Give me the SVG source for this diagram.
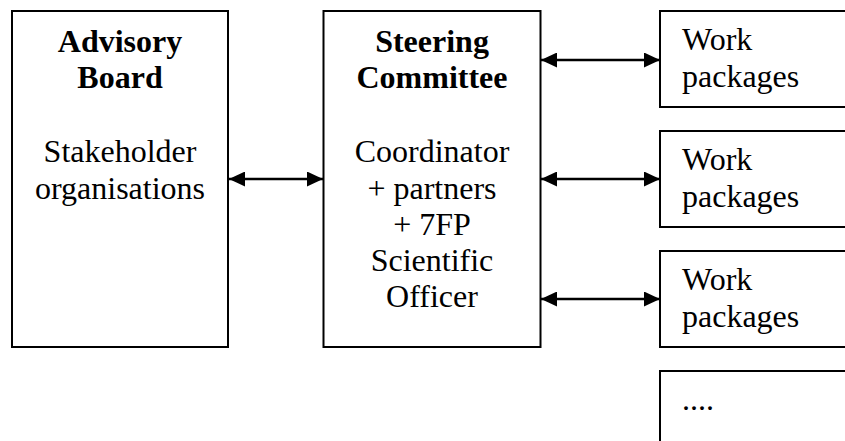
<svg xmlns="http://www.w3.org/2000/svg" width="845" height="441" viewBox="0 0 845 441">
<style>
.box{fill:#fff;stroke:#000;stroke-width:2}
.t{font-family:"Liberation Serif","Times New Roman",serif;font-size:32px;fill:#000}
.c{text-anchor:middle}
.b{font-weight:bold}
.conn line{stroke:#000;stroke-width:2.5;marker-start:url(#ah);marker-end:url(#ah)}
</style>
<defs>
<marker id="ah" viewBox="0 0 16 15" refX="16" refY="7.5" markerWidth="16" markerHeight="15" markerUnits="userSpaceOnUse" orient="auto-start-reverse">
<path d="M0,0 L16,7.5 L0,15 Z" fill="#000"/>
</marker>
</defs>
<rect width="845" height="441" fill="#fff"/>
<g id="advisory">
<rect class="box" x="12" y="11" width="216" height="336"/>
<text class="t c b" x="120" y="52">Advisory</text>
<text class="t c b" x="120" y="88">Board</text>
<text class="t c" x="120" y="162">Stakeholder</text>
<text class="t c" x="120" y="199">organisations</text>
</g>
<g id="steering">
<rect class="box" x="323.5" y="11" width="217" height="336"/>
<text class="t c b" x="432" y="52">Steering</text>
<text class="t c b" x="432" y="88">Committee</text>
<text class="t c" x="432" y="162">Coordinator</text>
<text class="t c" x="432" y="199">+ partners</text>
<text class="t c" x="432" y="235">+ 7FP</text>
<text class="t c" x="432" y="271">Scientific</text>
<text class="t c" x="432" y="307">Officer</text>
</g>
<g id="wp1">
<rect class="box" x="660" y="11" width="200" height="96"/>
<text class="t" x="682" y="50">Work</text>
<text class="t" x="682" y="87">packages</text>
</g>
<g id="wp2">
<rect class="box" x="660" y="131" width="200" height="96"/>
<text class="t" x="682" y="170">Work</text>
<text class="t" x="682" y="207">packages</text>
</g>
<g id="wp3">
<rect class="box" x="660" y="251" width="200" height="96"/>
<text class="t" x="682" y="290">Work</text>
<text class="t" x="682" y="327">packages</text>
</g>
<g id="wp4">
<rect class="box" x="660" y="371" width="200" height="96"/>
<text class="t" x="682" y="410">....</text>
</g>
<g class="conn" id="connectors">
<line x1="229" y1="179" x2="323" y2="179"/>
<line x1="541" y1="60" x2="660" y2="60"/>
<line x1="541" y1="179" x2="660" y2="179"/>
<line x1="541" y1="299" x2="660" y2="299"/>
</g>
</svg>
